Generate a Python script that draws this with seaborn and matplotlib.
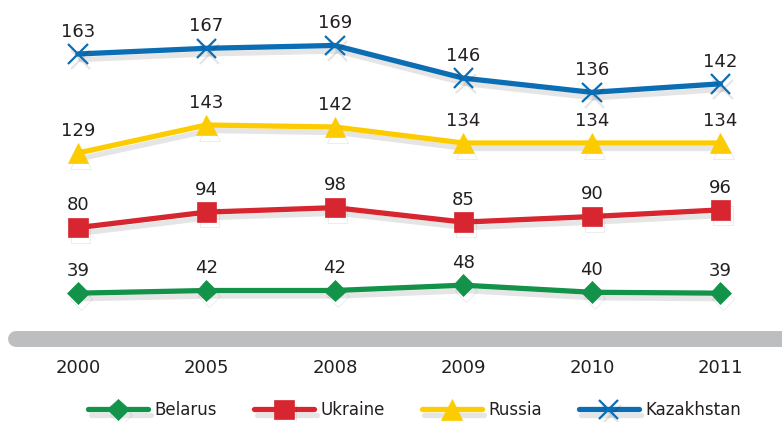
import matplotlib
matplotlib.use('Agg')
import matplotlib.pyplot as plt
import matplotlib.patheffects as pe
import matplotlib.transforms as mtransforms
import seaborn as sns

# data
years = ['2000', '2005', '2008', '2009', '2010', '2011']
countries = ['Belarus', 'Ukraine', 'Russia', 'Kazakhstan']
belarus = [39, 42, 42, 48, 40, 39]
ukraine = [80, 94, 98, 85, 90, 96]
russia = [129, 143, 142, 134, 134, 134]
kazakhstan = [163, 167, 169, 146, 136, 142]

colors = {'Belarus': '#13924a', 'Ukraine': '#d7262f', 'Russia': '#fdcc00', 'Kazakhstan': '#0b6eb4'}
markers = {'Belarus': 'D', 'Ukraine': 's', 'Russia': '^', 'Kazakhstan': 'x'}
msizes = {'Belarus': 11, 'Ukraine': 14, 'Russia': 15, 'Kazakhstan': 14}
series = {'Belarus': belarus, 'Ukraine': ukraine, 'Russia': russia, 'Kazakhstan': kazakhstan}
# each series sits in its own band (own y scale), as in the original graphic
ylims = {'Belarus': (-106, 369), 'Ukraine': (-95, 285), 'Russia': (-5.5, 205.5),
         'Kazakhstan': (-96, 201)}

sns.set_style('white')
plt.rcParams['font.family'] = ['DejaVu Sans']

fig = plt.figure(figsize=(7.82, 4.22), dpi=100)
pos = list(range(len(years)))

shadow = [pe.SimpleLineShadow(offset=(2, -4), alpha=0.1, shadow_color='k'), pe.Normal()]

handles = []
base_ax = None
for name in countries:
    ax = fig.add_axes([0, 0, 1, 1], facecolor='none', label=name)
    if base_ax is None:
        base_ax = ax
    vals = series[name]
    c = colors[name]
    sns.lineplot(x=pos, y=vals, ax=ax, color=c, lw=3.8, marker=markers[name],
                 markersize=msizes[name], mec=c, mfc=c,
                 mew=1.6 if name == 'Kazakhstan' else 0.5, label=name, legend=False)
    ln = ax.lines[-1]
    ln.set_path_effects(shadow)
    handles.append(ln)
    for x, v in zip(pos, vals):
        ax.annotate(str(v), (x, v), xytext=(0, 16), textcoords='offset points',
                    ha='center', va='center', fontsize=13, color='#231f20')
    ax.set_xlim(-0.607, 5.48)
    ax.set_ylim(*ylims[name])
    ax.axis('off')

ax = base_ax
# grey baseline bar
ax.plot([0.021, 1.05], [0.197, 0.197], transform=ax.transAxes, color='#bdbec0',
        lw=11.5, solid_capstyle='round', clip_on=False)

# year labels
trans = mtransforms.blended_transform_factory(ax.transData, ax.transAxes)
for x, yr in zip(pos, years):
    ax.text(x, 0.128, yr, transform=trans, ha='center', va='center',
            fontsize=13, color='#231f20')

leg = fig.legend(handles, countries, loc='center', bbox_to_anchor=(0.53, 0.028), ncol=4,
                 frameon=False, fontsize=12, handlelength=3.6, columnspacing=2.2,
                 handletextpad=0.4)
for t in leg.get_texts():
    t.set_color('#231f20')

fig.savefig('out.png', dpi=100)
